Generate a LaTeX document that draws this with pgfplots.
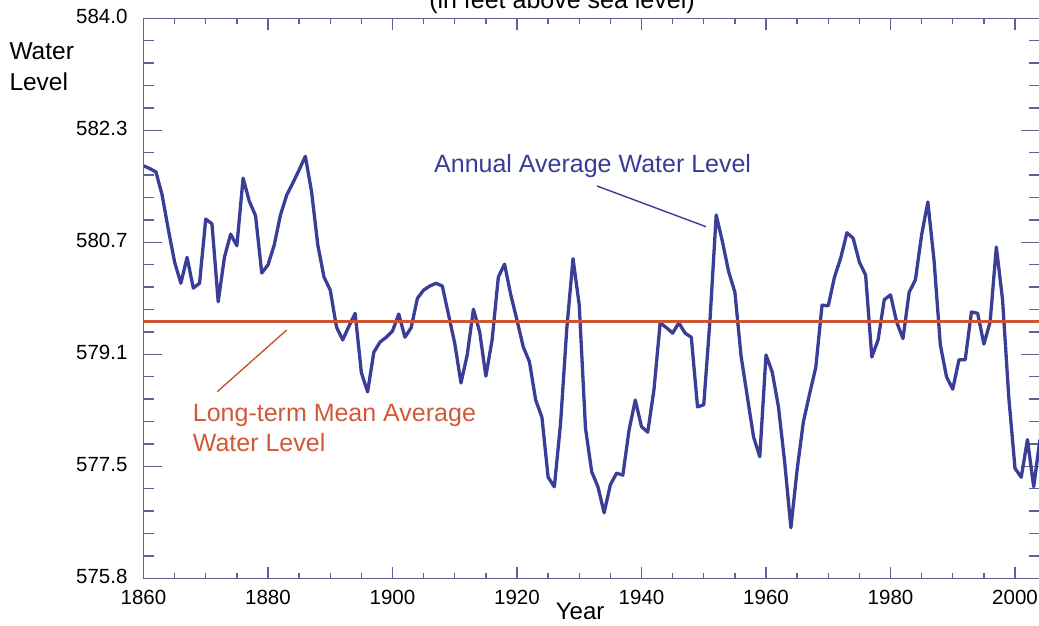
\documentclass[border=0pt]{standalone}
\usepackage{fontspec}
\setmainfont{Liberation Sans}
\usepackage{pgfplots}
\usepackage{pgfplotstable}
\pgfplotsset{compat=1.18}
\definecolor{wlblue}{RGB}{58,62,150}
\definecolor{axcol}{RGB}{95,98,150}
\definecolor{meanor}{RGB}{206,84,52}
\definecolor{txtblue}{RGB}{55,60,150}
\definecolor{txtor}{RGB}{210,88,55}

\pgfplotstableread{
year level
1860 581.84
1861 581.80
1862 581.75
1863 581.41
1864 580.90
1865 580.43
1866 580.12
1867 580.50
1868 580.05
1869 580.12
1870 581.06
1871 580.99
1872 579.85
1873 580.50
1874 580.84
1875 580.67
1876 581.66
1877 581.32
1878 581.11
1879 580.27
1880 580.39
1881 580.68
1882 581.12
1883 581.41
1884 581.59
1885 581.78
1886 581.98
1887 581.46
1888 580.68
1889 580.21
1890 580.02
1891 579.48
1892 579.29
1893 579.49
1894 579.68
1895 578.81
1896 578.53
1897 579.11
1898 579.26
1899 579.33
1900 579.42
1901 579.67
1902 579.33
1903 579.47
1904 579.90
1905 580.02
1906 580.08
1907 580.12
1908 580.08
1909 579.66
1910 579.24
1911 578.66
1912 579.07
1913 579.74
1914 579.41
1915 578.76
1916 579.29
1917 580.21
1918 580.40
1919 579.95
1920 579.58
1921 579.19
1922 578.97
1923 578.41
1924 578.16
1925 577.28
1926 577.14
1927 578.07
1928 579.46
1929 580.48
1930 579.80
1931 578.00
1932 577.36
1933 577.14
1934 576.76
1935 577.17
1936 577.34
1937 577.31
1938 577.97
1939 578.41
1940 578.02
1941 577.94
1942 578.56
1943 579.54
1944 579.47
1945 579.39
1946 579.54
1947 579.39
1948 579.33
1949 578.31
1950 578.34
1951 579.58
1952 581.12
1953 580.73
1954 580.29
1955 579.99
1956 579.05
1957 578.46
1958 577.87
1959 577.58
1960 579.07
1961 578.82
1962 578.31
1963 577.50
1964 576.54
1965 577.39
1966 578.09
1967 578.50
1968 578.89
1969 579.80
1970 579.79
1971 580.21
1972 580.49
1973 580.86
1974 580.78
1975 580.43
1976 580.24
1977 579.04
1978 579.29
1979 579.88
1980 579.95
1981 579.55
1982 579.31
1983 579.99
1984 580.17
1985 580.83
1986 581.31
1987 580.45
1988 579.22
1989 578.75
1990 578.57
1991 579.00
1992 579.00
1993 579.70
1994 579.68
1995 579.23
1996 579.55
1997 580.65
1998 579.88
1999 578.45
2000 577.41
2001 577.28
2002 577.83
2003 577.14
2004 577.83
}\levels

\pgfplotsset{common/.style={
  scale only axis, width=896.4pt, height=560pt,
  at={(143.5pt,47.7pt)}, anchor=south west,
  xmin=1860, xmax=2004, ymin=575.8, ymax=584.0,
  axis line style={axcol, line width=1.4pt},
  tick style={axcol, line width=1.4pt},
  tick align=inside, tick pos=both,
}}

\begin{document}
\begin{tikzpicture}[x=1pt,y=1pt]
\begin{axis}[common,
  xtick=\empty,
  ytick={575.8,577.44,579.08,580.72,582.36,584.0},
  yticklabels={575.8,577.5,579.1,580.7,582.3,584.0},
  minor y tick num=4,
  major tick length=19pt, minor tick length=10.7pt,
  yticklabel style={font=\fontsize{20.5}{24}\selectfont, inner sep=0pt, xshift=-15.8pt, yshift=2pt},
]
\addplot[wlblue, line width=3.3pt, line join=round] table[x=year,y=level]{\levels};
\addplot[meanor, line width=2.9pt] coordinates {(1860,579.56) (2004,579.56)};
\end{axis}
\begin{axis}[common,
  ytick=\empty,
  xtick={1860,1880,1900,1920,1940,1960,1980,2000},
  xticklabels={1860,1880,1900,1920,1940,1960,1980,2000},
  minor x tick num=3,
  major tick length=11.7pt, minor tick length=5.7pt,
  xticklabel style={font=\fontsize{20.5}{24}\selectfont, inner sep=0pt, yshift=-11.7pt},
]
\end{axis}
\node[anchor=base west, text=txtblue, font=\fontsize{25}{30}\selectfont, inner sep=0pt] at (434,453.7) {Annual Average Water Level};
\draw[txtblue, line width=1.4pt] (597,440) -- (706,399.3);
\node[anchor=base west, text=txtor, font=\fontsize{25}{30}\selectfont, inner sep=0pt] at (192.7,204.3) {Long-term Mean Average};
\node[anchor=base west, text=txtor, font=\fontsize{25}{30}\selectfont, inner sep=0pt] at (192.7,174.3) {Water Level};
\draw[meanor, line width=1.4pt] (286.7,296) -- (217.3,234.3);
\node[anchor=base west, font=\fontsize{24.5}{29}\selectfont, inner sep=0pt] at (9.3,566.7) {Water};
\node[anchor=base west, font=\fontsize{24.5}{29}\selectfont, inner sep=0pt] at (9.3,535.3) {Level};
\node[anchor=base west, font=\fontsize{24}{29}\selectfont, inner sep=0pt] at (555.7,6) {Year};
\node[anchor=base, font=\fontsize{25}{30}\selectfont, inner sep=0pt] at (562,617.5) {(in feet above sea level)};
\pgfresetboundingbox
\useasboundingbox (0,0) rectangle (1039,626);
\end{tikzpicture}
\end{document}
